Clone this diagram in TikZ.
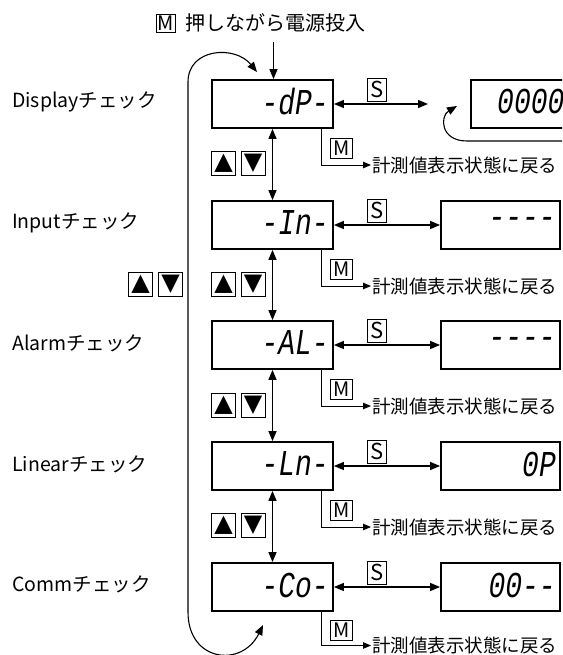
\documentclass[tikz,border=0pt]{standalone}
\usepackage{fontspec}
\usepackage{graphicx}
\setmainfont{Noto Sans CJK JP}
\newfontfamily\segfont[Ligatures=TeXOff]{Liberation Mono}
\newfontfamily\symfont{DejaVu Sans}
\usetikzlibrary{arrows.meta}
\tikzset{
  disp/.style={draw, line width=1.8pt, minimum width=121pt, minimum height=48pt, inner sep=0pt},
  rdisp/.style={disp, minimum width=119pt},
  seg/.style={inner sep=0pt, font=\fontsize{28}{28}\segfont\itshape},
  key/.style={draw, line width=0.9pt, inner sep=0pt, minimum width=19pt, minimum height=23pt, font=\fontsize{22}{22}\selectfont},
  mkey/.style={draw, line width=0.9pt, inner sep=0pt, minimum width=22pt, minimum height=20pt, font=\fontsize{20}{20}\selectfont},
  btn/.style={draw, line width=0.8pt, inner sep=0pt, minimum size=24pt, font=\fontsize{24}{24}\symfont},
  lab/.style={anchor=west, inner sep=0pt, font=\fontsize{19.5}{19.5}\selectfont},
  back/.style={anchor=west, inner sep=1pt, font=\fontsize{18.5}{18.5}\selectfont},
  arr/.style={line width=1.3pt, -{Triangle[length=10pt,width=8pt]}},
  darr/.style={line width=1.3pt, {Triangle[length=10pt,width=8pt]}-{Triangle[length=10pt,width=8pt]}},
  mline/.style={line width=0.9pt, -{Triangle[length=8pt,width=6.5pt]}},
}
\begin{document}
\begin{tikzpicture}[x=1pt,y=-1pt]
\clip (0,0) rectangle (562,655);
\fill[white] (0,0) rectangle (562,655);

% top instruction
\node[mkey, minimum width=19pt, minimum height=18pt] (m0) at (165.5,23.5) {M};
\node[back, font=\fontsize{20}{20}\selectfont] (top) at (184,23) {押しながら電源投入};
\coordinate (p0) at (273.5,42);

% left labels
\node[lab] (n1) at (12,102) {Displayチェック};
\node[lab] (n2) at (12,223) {Inputチェック};
\node[lab] (n3) at (12,343) {Alarmチェック};
\node[lab] (n4) at (12,464) {Linearチェック};
\node[lab] (n5) at (12,584) {Commチェック};

% left displays
\node[disp] (L1) at (272.5,104) {};
\node[disp] (L2) at (272.5,225) {};
\node[disp] (L3) at (272.5,345) {};
\node[disp] (L4) at (272.5,466) {};
\node[disp] (L5) at (272.5,587) {};
\node[seg, anchor=east] (t1) at (329,102) {\scalebox{1}[1.3]{-dP-}};
\node[seg, anchor=east] (t2) at (329,223) {\scalebox{1}[1.3]{-In-}};
\node[seg, anchor=east] (t3) at (329,343) {\scalebox{1}[1.3]{-AL-}};
\node[seg, anchor=east] (t4) at (329,464) {\scalebox{1}[1.3]{-Ln-}};
\node[seg, anchor=east] (t5) at (329,585) {\scalebox{1}[1.3]{-Co-}};

% right displays
\node[rdisp] (R1) at (530.5,104) {};
\node[rdisp] (R2) at (500.5,225) {};
\node[rdisp] (R3) at (500.5,345) {};
\node[rdisp] (R4) at (500.5,466) {};
\node[rdisp] (R5) at (500.5,587) {};
\node[seg, anchor=west] (u1) at (497,102) {\scalebox{1}[1.3]{0000}};
\node[seg, anchor=east] (u2) at (556,223) {\scalebox{1}[1.3]{----}};
\node[seg, anchor=east] (u3) at (556,343) {\scalebox{1}[1.3]{----}};
\node[seg, anchor=east] (u4) at (556,464) {\scalebox{1}[1.3]{0P}};
\node[seg, anchor=east] (u5) at (556,585) {\scalebox{1}[1.3]{00--}};

% S keys
\node[key] (s1) at (377,89.5) {S};
\node[key] (s2) at (377,210.5) {S};
\node[key] (s3) at (377,330.5) {S};
\node[key] (s4) at (377,451.5) {S};
\node[key] (s5) at (377,572.5) {S};

% M keys and return texts
\node[mkey] (m1) at (341.5,148.5) {M};
\node[mkey] (m2) at (341.5,269.5) {M};
\node[mkey] (m3) at (341.5,389.5) {M};
\node[mkey] (m4) at (341.5,510.5) {M};
\node[mkey] (m5) at (341.5,630) {M};
\node[back] (b1) at (371,165) {計測値表示状態に戻る};
\node[back] (b2) at (371,286) {計測値表示状態に戻る};
\node[back] (b3) at (371,406) {計測値表示状態に戻る};
\node[back] (b4) at (371,527) {計測値表示状態に戻る};
\node[back] (b5) at (371,645.5) {計測値表示状態に戻る};

% up/down buttons
\node[btn] (up1) at (223.5,163) {▲};
\node[btn] (dn1) at (253,163) {▼};
\node[btn] (up2) at (223.5,284.5) {▲};
\node[btn] (dn2) at (253,284.5) {▼};
\node[btn] (up3) at (223.5,405) {▲};
\node[btn] (dn3) at (253,405) {▼};
\node[btn] (up4) at (223.5,525) {▲};
\node[btn] (dn4) at (253,525) {▼};
\node[btn] (upL) at (140.5,284.5) {▲};
\node[btn] (dnL) at (170.5,284.5) {▼};

% connectors
\draw[arr] (p0) -- (p0 |- L1.north);
\coordinate (c1) at (428,104);
\draw[darr] (L1.east) -- (c1);
\draw[darr] (L2.east) -- (R2.west);
\draw[darr] (L3.east) -- (R3.west);
\draw[darr] (L4.east) -- (R4.west);
\draw[darr] (L5.east) -- (R5.west);
\draw[darr] (L1.south) -- (L2.north);
\draw[darr] (L2.south) -- (L3.north);
\draw[darr] (L3.south) -- (L4.north);
\draw[darr] (L4.south) -- (L5.north);
\draw[mline] ([xshift=-12pt]L1.south east) |- (b1.west);
\draw[mline] ([xshift=-12pt]L2.south east) |- (b2.west);
\draw[mline] ([xshift=-12pt]L3.south east) |- (b3.west);
\draw[mline] ([xshift=-12pt]L4.south east) |- (b4.west);
\draw[mline] ([xshift=-12pt]L5.south east) |- (b5.west);

% wrap-around loop
\coordinate (la) at (257,72);
\coordinate (lb) at (263,625);
\draw[line width=1.1pt, {Triangle[length=10pt,width=8pt]}-{Triangle[length=10pt,width=8pt]}]
  (lb) .. controls (242,668) and (188,662) .. (188,612) -- (188,82)
  .. controls (188,48) and (235,45) .. (la);

% display loop on 0000
\coordinate (q1) at (566,141);
\coordinate (q2) at (457,106);
\draw[line width=1.1pt, -{Triangle[length=10pt,width=8pt]}]
  (q1) -- (467,141) .. controls (440,141) and (440,116) .. (q2);
\end{tikzpicture}
\end{document}
